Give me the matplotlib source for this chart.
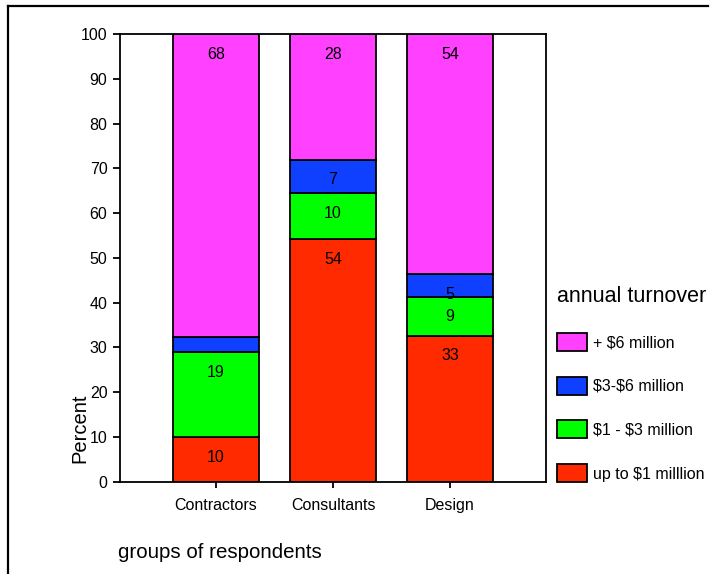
import matplotlib
matplotlib.use("Agg")
import matplotlib.pyplot as plt
from matplotlib.lines import Line2D
import numpy as np

plt.rcParams['font.family'] = ['Liberation Sans', 'DejaVu Sans']

# Survey data: share of respondents (%) in each turnover band
groups = ["Contractors", "Consultants", "Design"]
bands = ["up to $1 milllion", "$1 - $3 million", "$3-$6 million", "+ $6 million"]
up_to_1m = [10.0, 54.2, 32.6]
m1_to_3 = [18.9, 10.3, 8.7]
m3_to_6 = [3.5, 7.4, 5.1]
over_6m = [67.6, 28.1, 53.6]
colors = ["#FF2A00", "#00FF00", "#1040FF", "#FF40FF"]
y_ticks = [0, 10, 20, 30, 40, 50, 60, 70, 80, 90, 100]

series = [up_to_1m, m1_to_3, m3_to_6, over_6m]
# dollar signs are literal text, not math delimiters
band_labels = [b.replace("$", r"\$") for b in bands]

fig = plt.figure(figsize=(7.11, 5.74), dpi=100)
ax = fig.add_axes([120 / 711, 1 - 481.7 / 574, 426 / 711, 447.7 / 574])

x = np.arange(len(groups))
bottom = np.zeros(len(groups))
handles = []
for vals, col, name in zip(series, colors, band_labels):
    vals = np.array(vals)
    bars = ax.bar(x, vals, bottom=bottom, width=0.735, color=col,
                  edgecolor="black", linewidth=1.3, label=name, zorder=2)
    handles.append(bars)
    tops = bottom + vals
    for xi, v, t in zip(x, vals, tops):
        if v >= 4.5:
            ax.text(xi, min(t, 100) - 4.5, f"{v:.0f}", ha="center", va="center",
                    fontsize=11.5, color="black", zorder=3)
    bottom = tops

ax.set_xlim(-0.82, 2.82)
ax.set_ylim(0, 100)
ax.set_yticks(y_ticks)
ax.set_xticks(x)
ax.set_xticklabels(groups)
ax.tick_params(axis="both", direction="out", labelsize=11.5, width=1.3,
               color="black")
ax.tick_params(axis="y", length=5, pad=4)
ax.tick_params(axis="x", length=4, pad=8)
for sp in ax.spines.values():
    sp.set_linewidth(1.3)
    sp.set_color("black")

fig.text(79.5 / 711, 1 - 428 / 574, "Percent", rotation=90, ha="center",
         va="center", fontsize=14.5)
fig.text(118 / 711, 1 - 553 / 574, "groups of respondents", ha="left",
         va="center", fontsize=14.8)

leg = ax.legend(handles=handles[::-1], labels=band_labels[::-1],
                title="annual turnover", frameon=False, fontsize=11.5,
                title_fontsize=15.5, loc="upper left",
                bbox_to_anchor=(557 / 711, 1 - 286 / 574),
                bbox_transform=fig.transFigure,
                handlelength=1.9, handleheight=1.35, labelspacing=1.62,
                handletextpad=0.35, borderaxespad=0, borderpad=0)
leg._legend_box.align = "left"
for p in leg.get_patches():
    p.set_linewidth(1.3)

# page frame along the top and left edges
fig.add_artist(Line2D([8 / 711, 708 / 711], [1 - 6 / 574, 1 - 6 / 574],
                      transform=fig.transFigure, color="black", linewidth=1.6))
fig.add_artist(Line2D([8 / 711, 8 / 711], [1 - 6 / 574, 0],
                      transform=fig.transFigure, color="black", linewidth=1.6))

fig.savefig("out.png", dpi=100)
